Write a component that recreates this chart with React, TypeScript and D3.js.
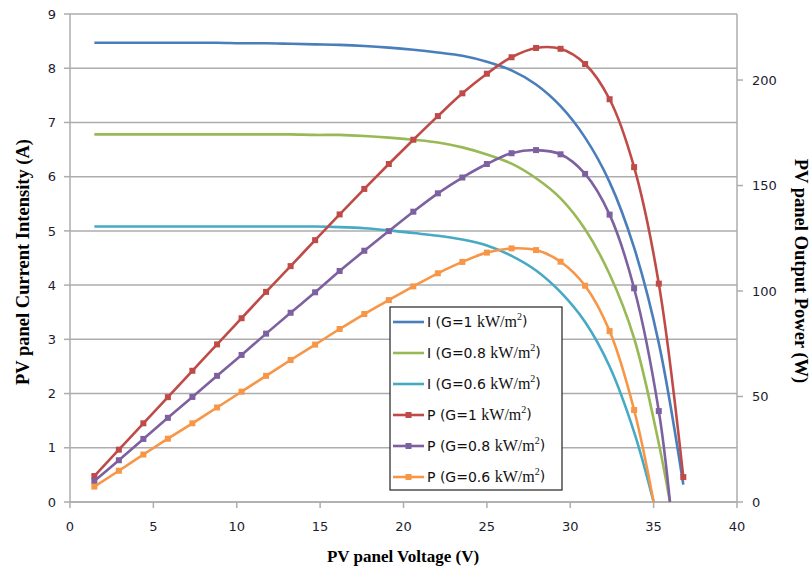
import React from "react";
import * as d3 from "d3";

// Sample voltages (V)
const voltage = [1.46, 2.93, 4.4, 5.87, 7.34, 8.82, 10.29, 11.76, 13.23, 14.7, 16.17, 17.65, 19.12, 20.59, 22.06, 23.53, 25.0, 26.48, 27.95, 29.42, 30.89, 32.36, 33.83, 35.31, 36.78];

// Currents (A)
const currentG1 = [8.47, 8.47, 8.47, 8.47, 8.47, 8.47, 8.46, 8.46, 8.45, 8.44, 8.43, 8.41, 8.38, 8.34, 8.29, 8.23, 8.12, 7.96, 7.7, 7.3, 6.72, 5.9, 4.69, 2.93, 0.32];
const currentG08 = [6.78, 6.78, 6.78, 6.78, 6.78, 6.78, 6.78, 6.78, 6.78, 6.77, 6.77, 6.75, 6.72, 6.68, 6.63, 6.54, 6.41, 6.24, 5.97, 5.6, 5.03, 4.2, 3.02, 1.08];
const currentG06 = [5.08, 5.08, 5.08, 5.08, 5.08, 5.08, 5.08, 5.08, 5.08, 5.08, 5.07, 5.05, 5.01, 4.96, 4.91, 4.84, 4.73, 4.54, 4.27, 3.87, 3.32, 2.5, 1.29];

// Powers (W)
const powerG1 = [12.3, 24.8, 37.3, 49.7, 62.2, 74.7, 87.1, 99.6, 111.8, 124.1, 136.3, 148.4, 160.2, 171.7, 182.9, 193.7, 203.0, 210.8, 215.2, 214.8, 207.6, 190.9, 158.7, 103.5, 11.8];
const powerG08 = [9.9, 19.8, 29.9, 39.9, 49.8, 59.8, 69.7, 79.8, 89.7, 99.4, 109.5, 119.1, 128.4, 137.6, 146.3, 153.8, 160.2, 165.3, 166.8, 164.8, 155.5, 136.2, 101.3, 43.1];
const powerG06 = [7.3, 14.8, 22.5, 30.0, 37.3, 44.8, 52.3, 59.8, 67.3, 74.6, 82.0, 89.1, 95.7, 102.2, 108.4, 113.8, 118.2, 120.2, 119.4, 113.9, 102.5, 81.0, 43.6];

// Open-circuit voltages where the curves reach zero (V)
const vocG08 = 35.98;
const vocG06 = 35.0;

const xTicks = [0, 5, 10, 15, 20, 25, 30, 35, 40];
const currentTicks = [0, 1, 2, 3, 4, 5, 6, 7, 8, 9];
const powerTicks = [0, 50, 100, 150, 200];

type Pt = [number, number];

const buildPoints = (vals: number[], voc: number | null): Pt[] => {
  const pts: Pt[] = vals.map((v, i) => [voltage[i], v]);
  if (voc !== null) pts.push([voc, 0]);
  return pts;
};

const series = [
  { label: "I", g: "1", color: "#4A7EBB", axis: "I", pts: buildPoints(currentG1, null), markers: false },
  { label: "I", g: "0.8", color: "#98B954", axis: "I", pts: buildPoints(currentG08, vocG08), markers: false },
  { label: "I", g: "0.6", color: "#46AAC5", axis: "I", pts: buildPoints(currentG06, vocG06), markers: false },
  { label: "P", g: "1", color: "#BE4B48", axis: "P", pts: buildPoints(powerG1, null), markers: true, n: powerG1.length },
  { label: "P", g: "0.8", color: "#7D60A0", axis: "P", pts: buildPoints(powerG08, vocG08), markers: true, n: powerG08.length },
  { label: "P", g: "0.6", color: "#F79646", axis: "P", pts: buildPoints(powerG06, vocG06), markers: true, n: powerG06.length },
];

const L = 70, R = 737, T = 14, B = 502;

export default function App() {
  const x = d3.scaleLinear().domain([0, 40]).range([L, R]);
  const yI = d3.scaleLinear().domain([0, 9]).range([B, T]);
  const yP = d3.scaleLinear().domain([0, 231.3]).range([B, T]);

  const tickFont = "'DejaVu Sans', Verdana, sans-serif";
  const titleFont = "'Liberation Serif', 'Times New Roman', serif";
  const tickColor = "#1c1c30";
  const gridColor = "#ADADAD";

  const legendX = 390, legendY = 307, legendW = 172, legendH = 183;
  const rowY = (i: number) => 322 + i * 31;

  return (
    <svg width={811} height={569} style={{ position: "absolute", left: 0, top: 0, background: "#fff" }}>
      <rect x={0} y={0} width={811} height={569} fill="#fff" />
      {/* gridlines */}
      {currentTicks.map((t) => (
        <line key={"g" + t} x1={L} x2={R} y1={yI(t)} y2={yI(t)} stroke={gridColor} strokeWidth={1.5} />
      ))}
      {/* left axis */}
      <line x1={L} x2={L} y1={T} y2={B} stroke={gridColor} strokeWidth={1.5} />
      {currentTicks.map((t) => (
        <g key={"l" + t}>
          <line x1={L - 6} x2={L} y1={yI(t)} y2={yI(t)} stroke={gridColor} strokeWidth={1.5} />
          <text x={L - 14} y={yI(t)} dy="0.36em" textAnchor="end" fontFamily={tickFont} fontSize={13} fill={tickColor}>{t}</text>
        </g>
      ))}
      {/* right axis */}
      <line x1={R} x2={R} y1={T} y2={B} stroke={gridColor} strokeWidth={1.5} />
      {powerTicks.map((t) => (
        <g key={"r" + t}>
          <line x1={R} x2={R + 6} y1={yP(t)} y2={yP(t)} stroke={gridColor} strokeWidth={1.5} />
          <text x={R + 15} y={yP(t)} dy="0.36em" textAnchor="start" fontFamily={tickFont} fontSize={13} fill={tickColor}>{t}</text>
        </g>
      ))}
      {/* bottom axis */}
      <line x1={L} x2={R} y1={B} y2={B} stroke={gridColor} strokeWidth={1.5} />
      {xTicks.map((t) => (
        <g key={"b" + t}>
          <line x1={x(t)} x2={x(t)} y1={B} y2={B + 6} stroke={gridColor} strokeWidth={1.5} />
          <text x={x(t)} y={B + 24} dy="0.36em" textAnchor="middle" fontFamily={tickFont} fontSize={13} fill={tickColor}>{t}</text>
        </g>
      ))}

      {/* series */}
      {series.map((s, i) => {
        const yS = s.axis === "I" ? yI : yP;
        const line = d3
          .line<Pt>()
          .x((d) => x(d[0]))
          .y((d) => yS(d[1]))
          .curve(d3.curveCatmullRom.alpha(0.5));
        return (
          <g key={"s" + i}>
            <path d={line(s.pts) || ""} fill="none" stroke={s.color} strokeWidth={2.6} strokeLinejoin="round" />
            {s.markers &&
              s.pts.slice(0, s.n).map((d, j) => (
                <rect key={j} x={x(d[0]) - 3} y={yS(d[1]) - 3} width={6} height={6} fill={s.color} />
              ))}
          </g>
        );
      })}

      {/* axis titles */}
      <text x={403} y={556} dy="0.36em" textAnchor="middle" fontFamily={titleFont} fontWeight="bold" fontSize={17} fill="#000">
        PV panel Voltage (V)
      </text>
      <text transform={`translate(22,262) rotate(-90)`} textAnchor="middle" dy="0.36em" fontFamily={titleFont} fontWeight="bold" fontSize={18.5} fill="#000">
        PV panel Current Intensity (A)
      </text>
      <text transform={`translate(802,271) rotate(90)`} textAnchor="middle" dy="0.36em" fontFamily={titleFont} fontWeight="bold" fontSize={18.5} fill="#000">
        PV panel Output Power (W)
      </text>

      {/* legend */}
      <rect x={legendX} y={legendY} width={legendW} height={legendH} fill="#fff" stroke="#222" strokeWidth={1.2} />
      {series.map((s, i) => (
        <g key={"lg" + i}>
          <line x1={393} x2={424} y1={rowY(i)} y2={rowY(i)} stroke={s.color} strokeWidth={2.6} />
          {s.markers && <rect x={405.5} y={rowY(i) - 3} width={6} height={6} fill={s.color} />}
          <text x={427} y={rowY(i)} dy="0.36em" fontSize={14} fill="#111">
            <tspan fontFamily={tickFont}>{`${s.label} (G=${s.g} `}</tspan>
            <tspan fontFamily={titleFont} fontSize={16}>kW/m</tspan>
            <tspan fontFamily={titleFont} fontSize={10} dy="-0.7em">2</tspan>
            <tspan fontFamily={tickFont} fontSize={14} dy="0.45em">)</tspan>
          </text>
        </g>
      ))}
    </svg>
  );
}
